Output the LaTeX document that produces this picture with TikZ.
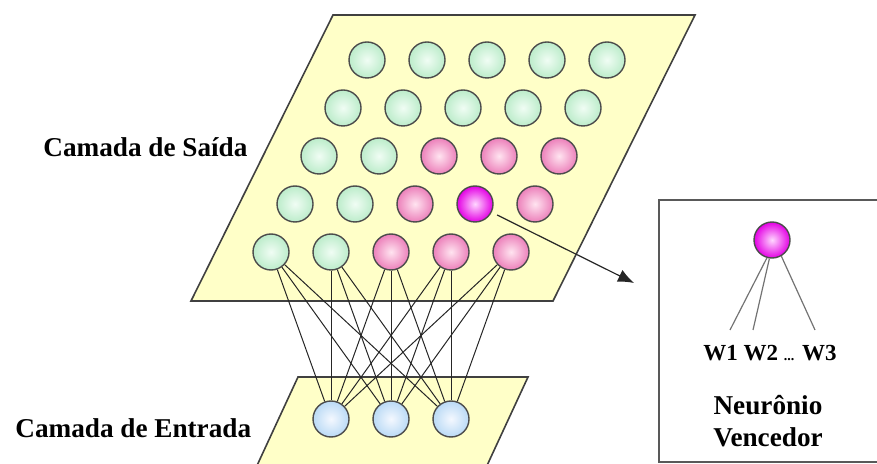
\documentclass[tikz,border=0pt]{standalone}
\usepackage{fontspec}
\setmainfont{Liberation Serif}
\usetikzlibrary{arrows.meta}

\definecolor{planofundo}{RGB}{255,255,200}
\definecolor{verde}{RGB}{188,236,202}
\definecolor{verdeclaro}{RGB}{240,253,244}
\definecolor{rosa}{RGB}{236,128,186}
\definecolor{rosaclaro}{RGB}{255,228,240}
\definecolor{magenta}{RGB}{228,0,228}
\definecolor{magentaclaro}{RGB}{255,215,255}
\definecolor{azul}{RGB}{186,218,245}
\definecolor{azulclaro}{RGB}{244,248,255}

\begin{document}
\begin{tikzpicture}[x=0.5pt,y=-0.5pt,
    plano/.style={fill=planofundo,draw=black!75,line width=0.8pt},
    neuronio/.style={circle,draw=black!70,line width=0.7pt,minimum size=18pt,inner sep=0pt},
    verdeN/.style={neuronio,inner color=verdeclaro,outer color=verde},
    rosaN/.style={neuronio,inner color=rosaclaro,outer color=rosa},
    vence/.style={neuronio,inner color=magentaclaro,outer color=magenta},
    entrada/.style={neuronio,inner color=azulclaro,outer color=azul},
    ligacao/.style={black!85,line width=0.5pt},
    peso/.style={black!55,line width=0.6pt},
    rotulo/.style={font=\bfseries\fontsize{13.6}{16}\selectfont},
    pesos/.style={font=\bfseries\fontsize{11.5}{13}\selectfont}]
\useasboundingbox (0,0) rectangle (877,464);
%
% ============ Planos das duas camadas ============
\draw[plano] (333,15) -- (695,15) -- (553,301) -- (191,301) -- cycle;
\draw[plano] (298,377) -- (528,377) -- (484,472) -- (254,472) -- cycle;
%
% ============ Camada de Saida: grade 5x5 ============
% linha 1
\node[verdeN] (s11) at (367,60) {};
\node[verdeN] (s12) at (427,60) {};
\node[verdeN] (s13) at (487,60) {};
\node[verdeN] (s14) at (547,60) {};
\node[verdeN] (s15) at (607,60) {};
% linha 2
\node[verdeN] (s21) at (343,108) {};
\node[verdeN] (s22) at (403,108) {};
\node[verdeN] (s23) at (463,108) {};
\node[verdeN] (s24) at (523,108) {};
\node[verdeN] (s25) at (583,108) {};
% linha 3
\node[verdeN] (s31) at (319,156) {};
\node[verdeN] (s32) at (379,156) {};
\node[rosaN]  (s33) at (439,156) {};
\node[rosaN]  (s34) at (499,156) {};
\node[rosaN]  (s35) at (559,156) {};
% linha 4 (com o vencedor)
\node[verdeN] (s41) at (295,204) {};
\node[verdeN] (s42) at (355,204) {};
\node[rosaN]  (s43) at (415,204) {};
\node[vence]  (s44) at (475,204) {};
\node[rosaN]  (s45) at (535,204) {};
% linha 5
\node[verdeN] (s51) at (271,252) {};
\node[verdeN] (s52) at (331,252) {};
\node[rosaN]  (s53) at (391,252) {};
\node[rosaN]  (s54) at (451,252) {};
\node[rosaN]  (s55) at (511,252) {};
%
% ============ Camada de Entrada ============
\node[entrada] (e1) at (331,419) {};
\node[entrada] (e2) at (391,419) {};
\node[entrada] (e3) at (451,419) {};
%
% Ligacoes: cada entrada com cada neuronio da ultima linha
\draw[ligacao] (s51) -- (e1); \draw[ligacao] (s51) -- (e2); \draw[ligacao] (s51) -- (e3);
\draw[ligacao] (s52) -- (e1); \draw[ligacao] (s52) -- (e2); \draw[ligacao] (s52) -- (e3);
\draw[ligacao] (s53) -- (e1); \draw[ligacao] (s53) -- (e2); \draw[ligacao] (s53) -- (e3);
\draw[ligacao] (s54) -- (e1); \draw[ligacao] (s54) -- (e2); \draw[ligacao] (s54) -- (e3);
\draw[ligacao] (s55) -- (e1); \draw[ligacao] (s55) -- (e2); \draw[ligacao] (s55) -- (e3);
%
% Rotulos das camadas
\node[rotulo,inner sep=0pt,anchor=base west] (lsaida) at (43,157) {Camada de Saída};
\node[rotulo,inner sep=0pt,anchor=base west] (lentrada) at (15,437) {Camada de Entrada};
%
% ============ Quadro do neuronio vencedor ============
\draw[black!65,line width=0.8pt] (880,200) -- (659,200) -- (659,462) -- (880,462);
\node[vence] (v) at (772,240) {};
\coordinate (w1) at (730,330);
\coordinate (w2) at (753,330);
\coordinate (w3) at (815,330);
\draw[peso] (v.254) -- (w1);
\draw[peso] (v.262) -- (w2);
\draw[peso] (v.300) -- (w3);
\node[pesos] (lpesos) at (770,353) {W1 W2 {\fontsize{7}{8}\selectfont...} W3};
\node[rotulo,align=center] (lvence) at (768,421) {Neurônio\\Vencedor};
%
% Seta do vencedor para o quadro
\coordinate (ponta) at (634,283);
\draw[-{Latex[length=8pt,width=6.5pt]},black!85,line width=0.6pt,shorten <=3pt] (s44) -- (ponta);
%
\end{tikzpicture}
\end{document}
